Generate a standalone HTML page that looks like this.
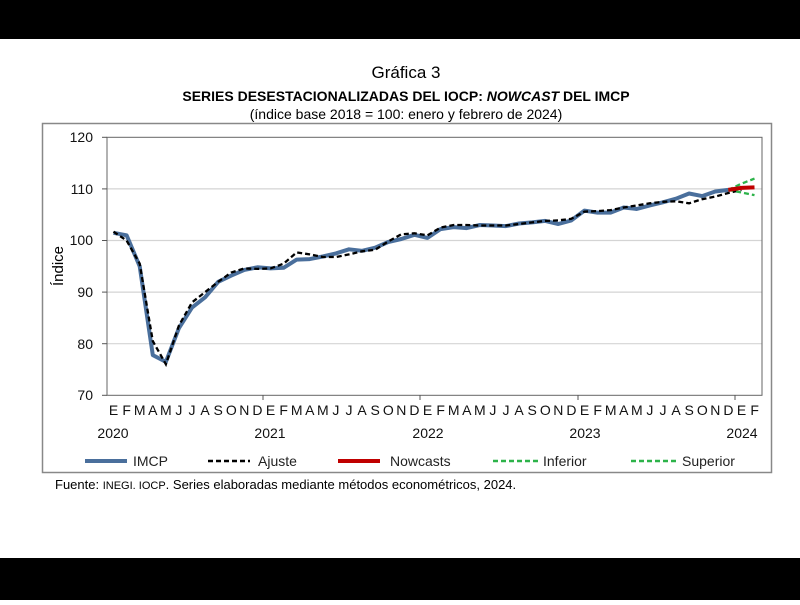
<!DOCTYPE html>
<html><head><meta charset="utf-8"><style>
body{margin:0;width:800px;height:600px;background:#fff;overflow:hidden;font-family:"Liberation Sans",sans-serif}
</style></head><body>
<svg width="800" height="600" xmlns="http://www.w3.org/2000/svg" font-family="Liberation Sans, sans-serif">
<rect x="0" y="0" width="800" height="39" fill="#000"/>
<rect x="0" y="558" width="800" height="42" fill="#000"/>
<text x="406" y="78" font-size="17" text-anchor="middle">Gráfica 3</text>
<text x="406" y="101" font-size="14" font-weight="bold" text-anchor="middle">SERIES DESESTACIONALIZADAS DEL IOCP: <tspan font-style="italic">NOWCAST</tspan> DEL IMCP</text>
<text x="406" y="119" font-size="14" text-anchor="middle">(índice base 2018 = 100: enero y febrero de 2024)</text>
<rect x="42.5" y="123.5" width="729" height="349" fill="none" stroke="#888" stroke-width="1.5"/>
<g stroke="#d4d4d4" stroke-width="1.2">
<line x1="107" x2="762" y1="188.9" y2="188.9"/><line x1="107" x2="762" y1="240.5" y2="240.5"/><line x1="107" x2="762" y1="292.1" y2="292.1"/><line x1="107" x2="762" y1="343.7" y2="343.7"/>
</g>
<rect x="107" y="137.3" width="655" height="258" fill="none" stroke="#666" stroke-width="1"/>
<g stroke="#555"><line x1="263" x2="263" y1="395" y2="400"/><line x1="420" x2="420" y1="395" y2="400"/><line x1="578" x2="578" y1="395" y2="400"/><line x1="735" x2="735" y1="395" y2="400"/><line x1="102" x2="107" y1="137.3" y2="137.3"/><line x1="102" x2="107" y1="188.9" y2="188.9"/><line x1="102" x2="107" y1="240.5" y2="240.5"/><line x1="102" x2="107" y1="292.1" y2="292.1"/><line x1="102" x2="107" y1="343.7" y2="343.7"/><line x1="102" x2="107" y1="395.3" y2="395.3"/></g>
<g font-size="14" text-anchor="end" fill="#111">
<text x="93" y="142">120</text><text x="93" y="194">110</text><text x="93" y="245">100</text><text x="93" y="297">90</text><text x="93" y="349">80</text><text x="93" y="400">70</text>
</g>
<text transform="translate(63,266) rotate(-90)" font-size="15" text-anchor="middle">Índice</text>
<g font-size="14" text-anchor="middle" fill="#111">
<text y="415" x="113.5 126.6 139.7 152.8 165.8 178.9 192 205.1 218.2 231.3 244.3 257.4">EFMAMJJASOND</text>
<text y="415" x="270.5 283.6 296.7 309.8 322.8 335.9 349 362.1 375.2 388.3 401.3 414.4">EFMAMJJASOND</text>
<text y="415" x="427.5 440.6 453.7 466.8 479.8 492.9 506 519.1 532.2 545.3 558.3 571.4">EFMAMJJASOND</text>
<text y="415" x="584.5 597.6 610.7 623.8 636.8 649.9 663 676.1 689.2 702.3 715.3 728.4">EFMAMJJASOND</text>
<text y="415" x="741.5 754.6">EF</text>
<text x="113" y="438">2020</text><text x="270" y="438">2021</text><text x="428" y="438">2022</text><text x="585" y="438">2023</text><text x="742" y="438">2024</text>
</g>
<g id="series"></g>
<g font-size="14" fill="#222">
<line x1="85" x2="127" y1="461" y2="461" stroke="#4a6f9c" stroke-width="4"/><text x="133" y="466">IMCP</text>
<line x1="208" x2="250" y1="461" y2="461" stroke="#000" stroke-width="2.5" stroke-dasharray="5,3"/><text x="258" y="466">Ajuste</text>
<line x1="338" x2="380" y1="461" y2="461" stroke="#c00000" stroke-width="4"/><text x="390" y="466">Nowcasts</text>
<line x1="493" x2="538" y1="461" y2="461" stroke="#2db34a" stroke-width="2.5" stroke-dasharray="5,3"/><text x="543" y="466">Inferior</text>
<line x1="631" x2="676" y1="461" y2="461" stroke="#2db34a" stroke-width="2.5" stroke-dasharray="5,3"/><text x="682" y="466">Superior</text>
</g>
<text x="55" y="489" font-size="13">Fuente: <tspan font-size="11">INEGI. IOCP</tspan>. Series elaboradas mediante métodos econométricos, 2024.</text>
</svg>
<script>
var X=function(i){return 107+13.08*(i+0.5)},Y=function(v){return 137.3+(120-v)*5.16};
function pts(a,o){return a.map(function(v,i){return X(i+(o||0)).toFixed(1)+","+Y(v).toFixed(1)}).join(" ")}
var imcp=[101.5,101,95,77.8,76.5,83,87,89,92,93.2,94.3,94.8,94.6,94.7,96.3,96.4,96.9,97.5,98.3,98,98.6,99.7,100.3,101.1,100.5,102.2,102.6,102.4,103,102.9,102.8,103.3,103.5,103.8,103.2,103.9,105.8,105.4,105.4,106.4,106.1,106.8,107.4,108.1,109.1,108.6,109.5,109.8];
var aj=[101.7,100,95.5,80.5,76,83.5,88,90,92,93.8,94.6,94.5,94.6,95.5,97.7,97.3,96.8,96.8,97.3,97.9,98.2,99.8,101.2,101.4,101,102.5,103,103,102.9,102.9,102.9,103.2,103.5,103.8,103.9,104.2,105.6,105.7,105.9,106.4,106.8,107.2,107.5,107.6,107.2,108,108.5,109.2,109.8];
var g=document.getElementById("series"),s="";
s+='<polyline fill="none" stroke="#4a6f9c" stroke-width="4" stroke-linejoin="round" points="'+pts(imcp)+'"/>';
s+='<polyline fill="none" stroke="#000" stroke-width="2.3" stroke-dasharray="5,3" points="'+pts(aj)+'"/>';
s+='<polyline fill="none" stroke="#2db34a" stroke-width="2.3" stroke-dasharray="5,3" points="'+pts([109.8,111,112],47)+'"/>';
s+='<polyline fill="none" stroke="#2db34a" stroke-width="2.3" stroke-dasharray="5,3" points="'+pts([109.8,109.3,108.8],47)+'"/>';
s+='<polyline fill="none" stroke="#c00000" stroke-width="4" points="'+pts([109.8,110.2,110.3],47)+'"/>';
g.innerHTML=s;
</script>
</body></html>
